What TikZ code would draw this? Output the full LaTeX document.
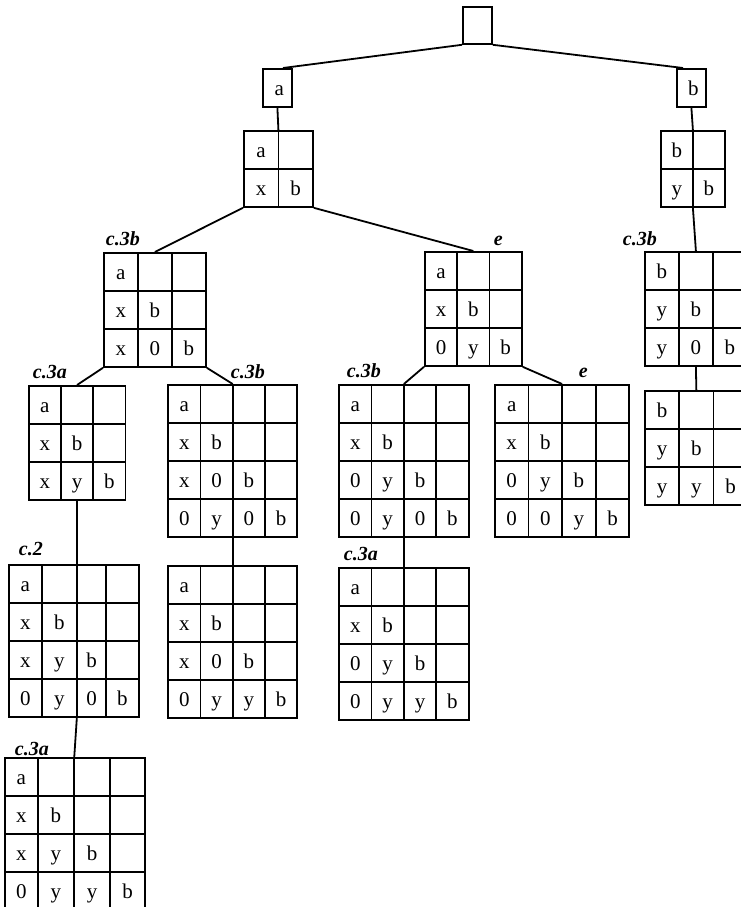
\documentclass[tikz,border=0pt]{standalone}
\usepackage{fontspec}
\setmainfont{Liberation Serif}
\usetikzlibrary{matrix}
\newcommand\cellfont{\fontsize{21pt}{21pt}\selectfont}
\newcommand\labfont{\fontsize{20pt}{20pt}\selectfont\bfseries\itshape}
\begin{document}
\begin{tikzpicture}[x=1pt,y=-1pt,line width=1.8pt,
  tbl/.style={matrix of nodes, nodes in empty cells, inner sep=0pt, outer sep=0pt,
    anchor=north west, column sep=-1.8pt, row sep=-1.8pt,
    nodes={draw, inner sep=0pt, minimum width=#1, minimum height=38pt,
      text height=18pt, text depth=2pt, font=\cellfont}},
  box/.style={draw, inner sep=0pt, text height=18pt, text depth=2pt, font=\cellfont, anchor=north west},
  lab/.style={anchor=base west, inner sep=0pt, font=\labfont}]
\useasboundingbox (0,0) rectangle (741,907);
% top boxes
\node[box, minimum width=29pt, minimum height=37pt] (root) at (462,6) {};
\node[box, minimum width=29pt, minimum height=38pt] (na) at (262,68) {\hspace{4pt}a};
\node[box, minimum width=29pt, minimum height=38pt] (nb) at (676,68) {\hspace{4pt}b};
% tables
\matrix[tbl=34.5pt] (A1) at (243,130) {a & \\ x & b \\};
\matrix[tbl=32pt] (B1) at (660,130) {b & \\ y & b \\};
\matrix[tbl=34pt] (L3) at (103,252) {a & & \\ x & b & \\ x & 0 & b \\};
\matrix[tbl=32.3pt] (E3) at (424,251) {a & & \\ x & b & \\ 0 & y & b \\};
\matrix[tbl=34pt] (R3) at (644,251) {b & & \\ y & b & \\ y & 0 & b \\};
\matrix[tbl=32.3pt] (A3) at (27.7,385) {a & & \\ x & b & \\ x & y & b \\};
\matrix[tbl=32.25pt] (B4) at (167.3,384) {a & & & \\ x & b & & \\ x & 0 & b & \\ 0 & y & 0 & b \\};
\matrix[tbl=32.35pt] (M4) at (338.3,384) {a & & & \\ x & b & & \\ 0 & y & b & \\ 0 & y & 0 & b \\};
\matrix[tbl=33.6pt] (E4) at (494,384) {a & & & \\ x & b & & \\ 0 & y & b & \\ 0 & 0 & y & b \\};
\matrix[tbl=34.3pt] (R3b) at (644,390) {b & & \\ y & b & \\ y & y & b \\};
\matrix[tbl=32.4pt, column 2/.style={nodes={minimum width=35.3pt}},
  column 3/.style={nodes={minimum width=29.3pt}}] (C2) at (8.3,564)
  {a & & & \\ x & b & & \\ x & y & b & \\ 0 & y & 0 & b \\};
\matrix[tbl=32.25pt] (B4b) at (167.3,565) {a & & & \\ x & b & & \\ x & 0 & b & \\ 0 & y & y & b \\};
\matrix[tbl=32.35pt] (M4b) at (338.3,567) {a & & & \\ x & b & & \\ 0 & y & b & \\ 0 & y & y & b \\};
\matrix[tbl=32.4pt, column 2/.style={nodes={minimum width=36.6pt}},
  column 3/.style={nodes={minimum width=36pt}},
  column 4/.style={nodes={minimum width=34.7pt}}] (A5) at (4.3,757)
  {a & & & \\ x & b & & \\ x & y & b & \\ 0 & y & y & b \\};
% edges
\draw (root.south west) -- ([xshift=21pt]na.north west);
\draw (root.south east) -- ([xshift=7pt]nb.north west);
\draw (na.south) -- (A1.north);
\draw (nb.south) -- (B1.north);
\draw (A1.south west) -- (L3.north);
\draw (A1.south east) -- (E3.north);
\draw (B1.south) -- (R3.north);
\draw (L3.south west) -- (A3.north);
\draw (L3.south east) -- (B4.north);
\draw (E3.south west) -- (M4.north);
\draw (E3.south east) -- (E4.north);
\draw (R3.south) -- (R3b.north);
\draw (A3.south) -- (C2-1-3.north west);
\draw (B4.south) -- (B4b.north);
\draw (M4.south) -- (M4b.north);
\draw (C2-4-3.south west) -- (A5-1-3.north west);
% labels
\node[lab] (l1) at (105,245) {c.3b};
\node[lab] (l2) at (493,245) {e};
\node[lab] (l3) at (622,245) {c.3b};
\node[lab] (l4) at (32,378) {c.3a};
\node[lab] (l5) at (230,378) {c.3b};
\node[lab] (l6) at (346,377) {c.3b};
\node[lab] (l7) at (578,377) {e};
\node[lab] (l8) at (18,555) {c.2};
\node[lab] (l9) at (14,755) {c.3a};
\node[lab] (l10) at (343,560) {c.3a};
\end{tikzpicture}
\end{document}
